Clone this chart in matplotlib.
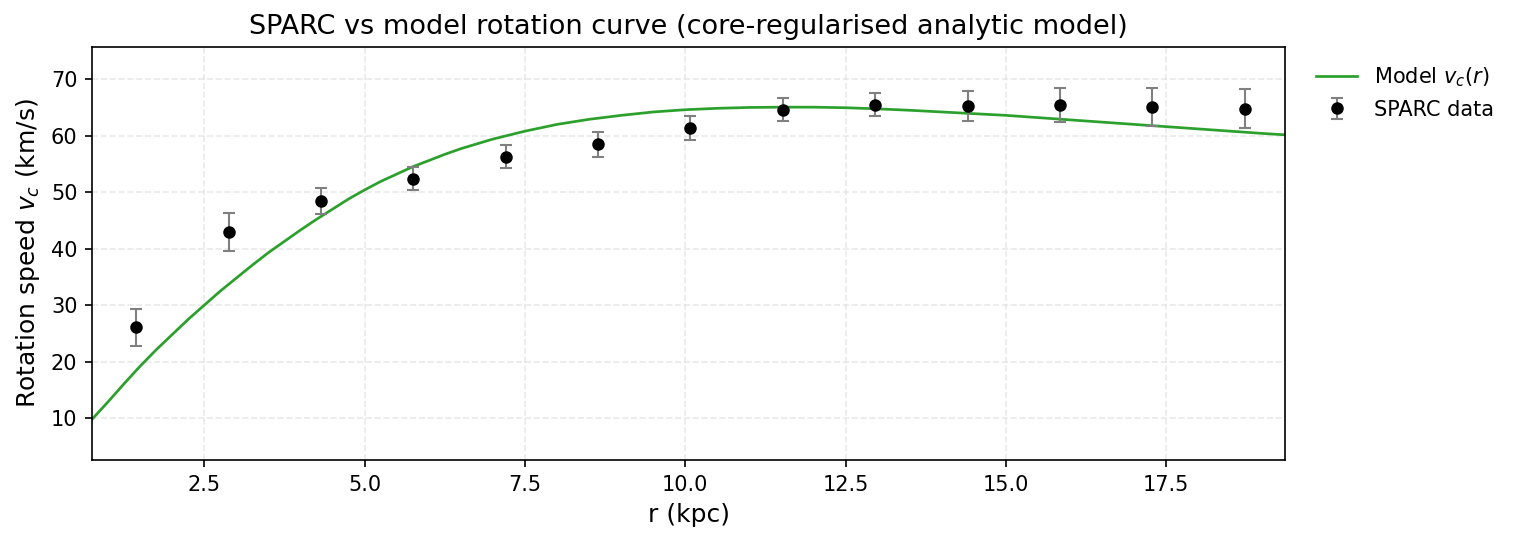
import numpy as np
import matplotlib
matplotlib.use("Agg")
import matplotlib.pyplot as plt

# SPARC data points (r in kpc, v in km/s)
r_data = [1.44, 2.88, 4.32, 5.76, 7.20, 8.64, 10.08, 11.52, 12.96, 14.40, 15.84, 17.28, 18.72]
v_data = [26.1, 43.0, 48.5, 52.4, 56.3, 58.5, 61.4, 64.6, 65.5, 65.3, 65.5, 65.1, 64.8]
v_err = [3.3, 3.4, 2.3, 2.0, 2.0, 2.2, 2.1, 2.0, 2.1, 2.65, 3.0, 3.3, 3.45]

# model curve
r_model = [0.75, 1.0, 1.25, 1.5, 1.75, 2.0, 2.25, 2.5, 2.75, 3.0, 3.25, 3.5, 3.75, 4.0,
           4.25, 4.5, 4.75, 5.0, 5.25, 5.5, 5.75, 6.0, 6.25, 6.5, 7.0, 7.5,
           8.0, 8.5, 9.0, 9.5, 10.0, 10.5, 11.0, 11.5, 12.0, 12.5, 13.0, 13.5, 14.0,
           14.5, 15.0, 15.5, 16.0, 16.5, 17.0, 17.5, 18.0, 18.5, 19.0, 19.35]
v_model = [9.8, 12.9, 16.1, 19.2, 22.1, 24.8, 27.5, 30.0, 32.5, 34.8, 37.1, 39.3, 41.3,
           43.3, 45.2, 47.0, 48.8, 50.4, 51.9, 53.2, 54.5, 55.6, 56.7, 57.7,
           59.4, 60.8, 62.0, 62.9, 63.6, 64.2, 64.6, 64.85, 65.0, 65.05, 65.05, 64.95,
           64.75, 64.5, 64.2, 63.9, 63.6, 63.2, 62.8, 62.4, 62.0, 61.6, 61.2, 60.8,
           60.4, 60.15]

fig = plt.figure(figsize=(1517 / 150, 542 / 150), dpi=150)
ax = fig.add_axes([92 / 1517, 1 - 460 / 542, (1285 - 92) / 1517, (460 - 47) / 542])

ax.plot(r_model, v_model, color='#2ca02c', lw=1.3, label='Model $v_c(r)$')
ax.errorbar(r_data, v_data, yerr=v_err, fmt='o', color='black', ms=5,
            ecolor='gray', elinewidth=1, capsize=3, label='SPARC data')

ax.set_xlim(0.75, 19.35)
ax.set_ylim(2.6, 75.7)
ax.grid(True, linestyle='--', color='#dddddd', alpha=0.6)
ax.set_title('SPARC vs model rotation curve (core-regularised analytic model)', fontsize=13)
ax.set_xlabel('r (kpc)', fontsize=12)
ax.set_ylabel('Rotation speed $v_c$ (km/s)', fontsize=12)
ax.tick_params(labelsize=10)
ax.legend(loc='upper left', bbox_to_anchor=(1.01, 1.0), frameon=False, fontsize=10)

fig.savefig('out.png', dpi=150)
